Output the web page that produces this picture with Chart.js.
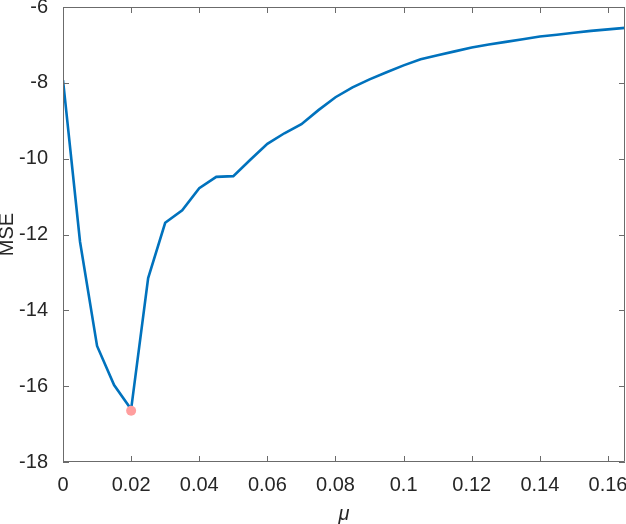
<!DOCTYPE html>
<html>
<head>
<meta charset="utf-8">
<script src="https://cdn.jsdelivr.net/npm/chart.js@4/dist/chart.umd.min.js"></script>
<style>
  html, body { margin: 0; padding: 0; background: #fff; }
  #wrap { width: 626px; height: 524px; }
</style>
</head>
<body>
<div id="wrap"><canvas id="myChart"></canvas></div>
<script>
// ---- data ----
const muValues = [0, 0.005, 0.01, 0.015, 0.02, 0.025, 0.03, 0.035, 0.04, 0.045,
  0.05, 0.055, 0.06, 0.065, 0.07, 0.075, 0.08, 0.085, 0.09, 0.095,
  0.1, 0.105, 0.11, 0.115, 0.12, 0.125, 0.13, 0.135, 0.14, 0.145,
  0.15, 0.155, 0.16, 0.165];
const mseValues = [-7.93, -12.19, -14.94, -15.97, -16.61, -13.15, -11.69, -11.36, -10.78, -10.48,
  -10.46, -10.03, -9.61, -9.33, -9.09, -8.72, -8.38, -8.12, -7.91, -7.72,
  -7.54, -7.38, -7.27, -7.17, -7.07, -6.99, -6.92, -6.85, -6.78, -6.73,
  -6.68, -6.63, -6.59, -6.55];
const bestMu = [0.02];
const bestMse = [-16.65];
const xTicks = [0, 0.02, 0.04, 0.06, 0.08, 0.1, 0.12, 0.14, 0.16];
const yTicks = [-18, -16, -14, -12, -10, -8, -6];

const lineData = muValues.map((x, i) => ({ x: x, y: mseValues[i] }));
const bestData = bestMu.map((x, i) => ({ x: x, y: bestMse[i] }));

// ---- box around the axes with inward ticks (matlab look) ----
const boxPlugin = {
  id: 'boxPlugin',
  afterDraw(chart) {
    const c = chart.ctx;
    const a = chart.chartArea;
    const xs = chart.scales.x;
    const ys = chart.scales.y;
    const len = 6;
    c.save();
    c.strokeStyle = '#6b6b6b';
    c.lineWidth = 1;
    c.beginPath();
    c.rect(a.left + 0.5, a.top + 0.5, a.right - a.left - 1, a.bottom - a.top - 1);
    for (const v of xTicks) {
      const px = Math.round(xs.getPixelForValue(v)) + 0.5;
      c.moveTo(px, a.bottom); c.lineTo(px, a.bottom - len);
      c.moveTo(px, a.top); c.lineTo(px, a.top + len);
    }
    for (const v of yTicks) {
      const py = Math.round(ys.getPixelForValue(v)) + 0.5;
      c.moveTo(a.left, py); c.lineTo(a.left + len, py);
      c.moveTo(a.right, py); c.lineTo(a.right - len, py);
    }
    c.stroke();
    c.restore();
  }
};

const fontFamily = '"Liberation Sans", Arial, Helvetica, sans-serif';

new Chart(document.getElementById('myChart'), {
  type: 'line',
  data: {
    datasets: [
      {
        data: bestData,
        showLine: false,
        pointRadius: 5,
        pointBackgroundColor: '#ff9e9e',
        pointBorderColor: '#ff9e9e',
        pointBorderWidth: 0,
        order: 0
      },
      {
        data: lineData,
        borderColor: '#0072bd',
        borderWidth: 2.6,
        pointRadius: 0,
        tension: 0,
        fill: false,
        order: 1
      }
    ]
  },
  options: {
    responsive: true,
    maintainAspectRatio: false,
    animation: false,
    layout: { autoPadding: false, padding: { top: 7, right: 1, left: 0, bottom: 0 } },
    plugins: {
      legend: { display: false },
      tooltip: { enabled: false }
    },
    scales: {
      x: {
        type: 'linear',
        min: 0,
        max: 0.165,
        grid: { display: false },
        border: { display: false },
        afterFit(scale) {
          scale.height = 62;
          scale.paddingLeft = 0;
          scale.paddingRight = 0;
        },
        afterBuildTicks(scale) { scale.ticks = xTicks.map(v => ({ value: v })); },
        ticks: {
          color: '#262626',
          font: { family: fontFamily, size: 20 },
          padding: 3,
          maxRotation: 0,
          autoSkip: false,
          callback: v => String(Number(v.toFixed(3)))
        },
        title: {
          display: true,
          text: 'μ',
          color: '#262626',
          font: { family: fontFamily, size: 20, style: 'italic', lineHeight: 1 },
          padding: { top: 0, bottom: 0 }
        }
      },
      y: {
        min: -18,
        max: -6,
        grid: { display: false },
        border: { display: false },
        afterFit(scale) {
          scale.width = 63;
          scale.paddingTop = 0;
          scale.paddingBottom = 0;
        },
        afterBuildTicks(scale) { scale.ticks = yTicks.map(v => ({ value: v })); },
        ticks: {
          color: '#262626',
          font: { family: fontFamily, size: 20 },
          padding: 7,
          autoSkip: false
        },
        title: {
          display: true,
          text: 'MSE',
          color: '#262626',
          font: { family: fontFamily, size: 20, lineHeight: 1 },
          padding: { top: -3, bottom: 0 }
        }
      }
    }
  },
  plugins: [boxPlugin]
});
</script>
</body>
</html>
